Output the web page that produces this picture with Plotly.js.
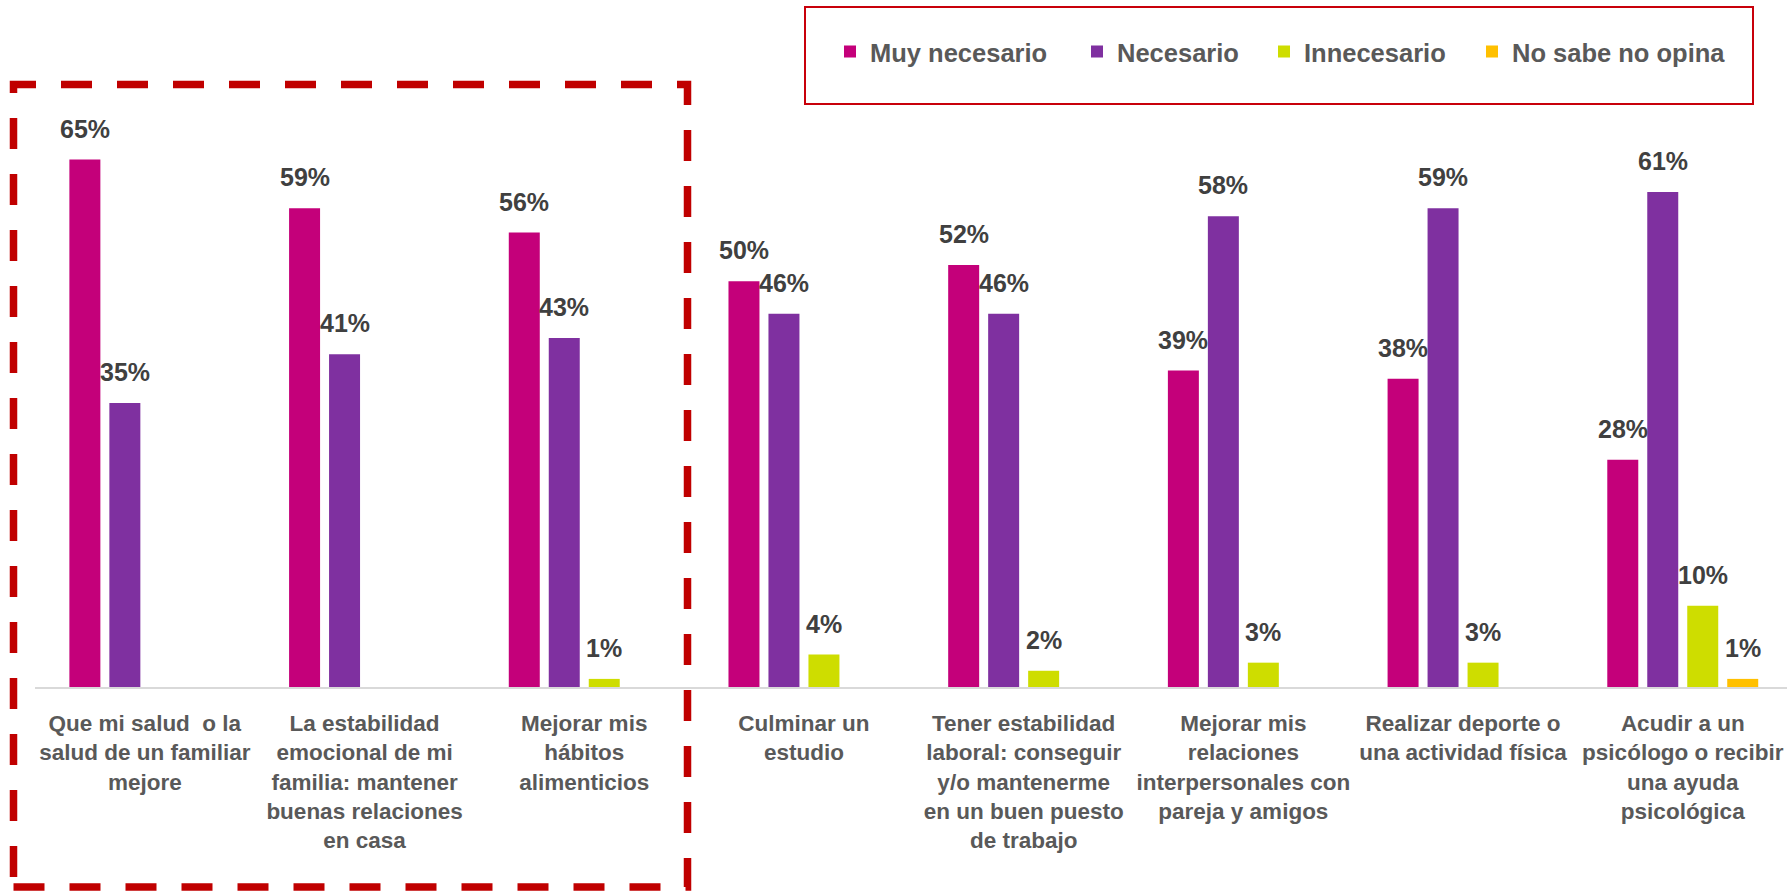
<!DOCTYPE html>
<html>
<head>
<meta charset="utf-8">
<script src="https://cdn.plot.ly/plotly-3.0.1.min.js"></script>
<style>html,body{margin:0;padding:0;background:#fff;}#chart{width:1787px;height:893px;}</style>
</head>
<body>
<div id="chart"></div>
<script>
const categories = [
  "Que mi salud  o la<br>salud de un familiar<br>mejore",
  "La estabilidad<br>emocional de mi<br>familia: mantener<br>buenas relaciones<br>en casa",
  "Mejorar mis<br>hábitos<br>alimenticios",
  "Culminar un<br>estudio",
  "Tener estabilidad<br>laboral: conseguir<br>y/o mantenerme<br>en un buen puesto<br>de trabajo",
  "Mejorar mis<br>relaciones<br>interpersonales con<br>pareja y amigos",
  "Realizar deporte o<br>una actividad física",
  "Acudir a un<br>psicólogo o recibir<br>una ayuda<br>psicológica"
];
const seriesNames = ["Muy necesario", "Necesario", "Innecesario", "No sabe no opina"];
const muyNecesario = [65, 59, 56, 50, 52, 39, 38, 28];
const necesario    = [35, 41, 43, 46, 46, 58, 59, 61];
const innecesario  = [null, null, 1, 4, 2, 3, 3, 10];
const noSabe       = [null, null, null, null, null, null, null, 1];
const colors = ["#C4007A", "#7F30A0", "#CEDD00", "#FFC000"];

const allSeries = [muyNecesario, necesario, innecesario, noSabe];
const FONT = "Liberation Sans, Arial, sans-serif";
const bargap = 0.272;
const slot = (1 - bargap) / 4;

const xIdx = categories.map((c, i) => i);
const legendIds = ["legend", "legend2", "legend3", "legend4"];

const traces = allSeries.map((vals, k) => ({
  type: "bar",
  name: seriesNames[k],
  x: xIdx,
  y: vals,
  marker: {color: colors[k], line: {width: 0}},
  legend: legendIds[k],
  hoverinfo: "skip"
}));

const annotations = [];
allSeries.forEach((vals, k) => {
  vals.forEach((v, i) => {
    if (v === null) return;
    annotations.push({
      xref: "x", yref: "y",
      x: i + (k - 1.5) * slot, y: v,
      text: v + "%",
      showarrow: false,
      xanchor: "center", yanchor: "bottom",
      yshift: 15,
      font: {family: FONT, size: 25, color: "#404040", weight: "bold"}
    });
  });
});

// pixel -> paper helpers (plot area: x 35..1787, y 119..687)
const L = 35, W = 1752, T = 119, H = 568;
const px = v => (v - L) / W;
const py = v => (T + H - v) / H;

const legendTextStarts = [872, 1119, 1306, 1514];
const legendCfg = {};
legendIds.forEach((id, k) => {
  legendCfg[id] = {
    x: px(legendTextStarts[k] - 42), xanchor: "left",
    y: py(52), yanchor: "middle",
    orientation: "h",
    bgcolor: "rgba(0,0,0,0)",
    borderwidth: 0,
    font: {family: FONT, size: 25.5, color: "#595959", weight: "bold"}
  };
});

const layout = Object.assign({
  width: 1787, height: 893,
  margin: {l: L, r: 0, t: T, b: 893 - T - H, pad: 0},
  paper_bgcolor: "#ffffff",
  plot_bgcolor: "#ffffff",
  barmode: "group",
  bargap: bargap,
  bargroupgap: 0.225,
  showlegend: true,
  font: {family: FONT},
  xaxis: {
    type: "linear",
    range: [-0.5, -0.5 + W / 219.7],
    tickmode: "array",
    tickvals: xIdx,
    ticktext: categories,
    tickangle: 0,
    ticks: "",
    ticklabelstandoff: 15,
    ticklabeloverflow: "allow",
    showgrid: false,
    zeroline: false,
    showline: true,
    linecolor: "#D9D9D9",
    linewidth: 2,
    tickfont: {family: FONT, size: 22.5, color: "#595959", weight: "bold"},
    fixedrange: true
  },
  yaxis: {
    range: [0, 70],
    showgrid: false,
    zeroline: false,
    showline: false,
    showticklabels: false,
    ticks: "",
    fixedrange: true
  },
  annotations: annotations,
  shapes: [
    {type: "rect", xref: "paper", yref: "paper",
     x0: px(13.5), x1: px(687.5), y0: py(887), y1: py(84.5),
     line: {color: "#C00000", width: 7.5, dash: "31px,25px"}, fillcolor: "rgba(0,0,0,0)", layer: "above"},
    {type: "rect", xref: "paper", yref: "paper",
     x0: px(805), x1: px(1753), y0: py(104), y1: py(7),
     line: {color: "#C8000A", width: 2}, fillcolor: "rgba(0,0,0,0)", layer: "above"}
  ]
}, legendCfg);

Plotly.newPlot("chart", traces, layout, {displayModeBar: false, staticPlot: true});
</script>
</body>
</html>
